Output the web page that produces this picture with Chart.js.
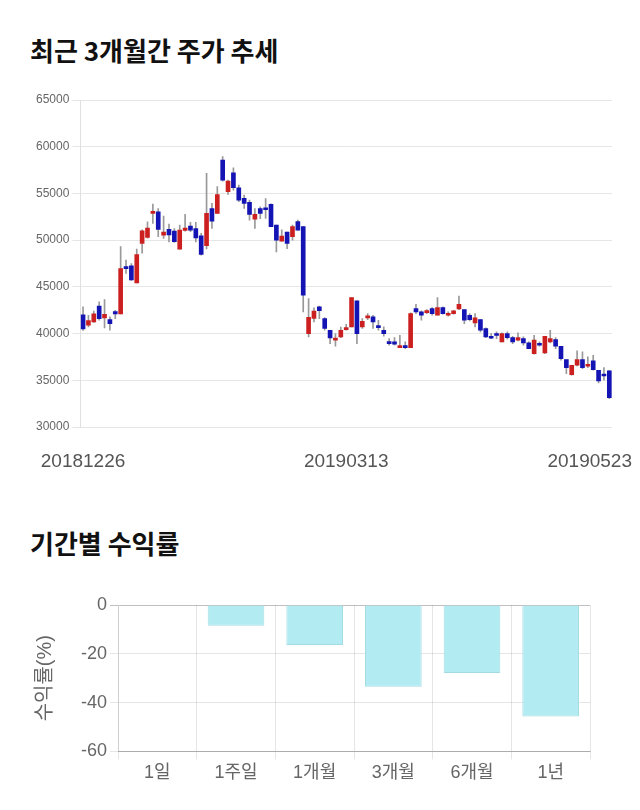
<!DOCTYPE html>
<html>
<head>
<meta charset="utf-8">
<script src="https://cdn.jsdelivr.net/npm/chart.js@4.4.0/dist/chart.umd.min.js"></script>
<style>
body { margin: 0; background: #fff; width: 640px; height: 810px; position: relative; overflow: hidden; font-family: 'Noto Sans CJK KR', sans-serif; }
.title { position: absolute; left: 30px; font-size: 26px; font-weight: bold; color: #111; line-height: 26px; }
#priceBox { position: absolute; left: 0; top: 80px; width: 640px; height: 400px; }
#returnBox { position: absolute; left: 0; top: 590px; width: 640px; height: 203px; }
</style>
</head>
<body>
<div class="title" style="top:37px">최근 3개월간 주가 추세</div>
<div id="priceBox"><canvas id="priceChart"></canvas></div>
<div class="title" style="top:530px">기간별 수익률</div>
<div id="returnBox"><canvas id="returnChart"></canvas></div>
<script>
// daily candles, 2018-12-26 .. 2019-05-23
const opens = [
    42000, 40900, 41250, 42930, 41680, 41500, 42350, 42100, 47180, 47250,
    45430, 49650, 50300, 52860, 53030, 50540, 51150, 50970, 49040, 51040,
    51500, 51250, 50460, 49400, 53390, 52860, 58570, 55180, 57210, 55610,
    54470, 54040, 52250, 53390, 53300, 53820, 51600, 49900, 50850, 50360,
    52000, 51450, 40000, 41610, 42860, 41610, 40360, 39300, 39640, 40430,
    40710, 43500, 40710, 41680, 41790, 40710, 40360, 39040, 39110, 38500,
    38640, 38500, 42680, 42320, 42250, 42680, 41960, 42790, 41960, 42140,
    42640, 42570, 41960, 41140, 41500, 40540, 39570, 39890, 39110, 40000,
    39570, 39290, 39460, 39000, 37860, 38860, 37930, 39110, 39360, 38640,
    37210, 35610, 36610, 37210, 36500, 37070, 36070, 35540, 36000
];
const highs = [
    42850, 41950, 42400, 43400, 43640, 41790, 42500, 49300, 47860, 47500,
    49050, 51100, 51950, 53860, 53390, 52570, 51720, 51250, 51610, 52750,
    51900, 51900, 50720, 57150, 53930, 55720, 58950, 56430, 57750, 55900,
    54820, 54290, 53390, 53570, 54460, 53900, 51600, 51100, 50850, 51600,
    52150, 51450, 43750, 42750, 42930, 41700, 40360, 40000, 40700, 41000,
    43860, 43500, 41610, 42140, 41960, 41430, 40710, 39460, 39570, 39820,
    39110, 42210, 43140, 42430, 42570, 42790, 43860, 42860, 42320, 42500,
    44000, 42570, 42140, 42140, 41500, 40610, 40000, 40180, 40070, 40180,
    39710, 40070, 39640, 39110, 39820, 39110, 39710, 40360, 39570, 38640,
    37210, 36610, 38140, 38040, 37500, 37680, 36070, 36360, 36070
];
const lows = [
    40350, 40700, 41200, 41430, 40600, 40360, 41600, 42100, 46430, 45700,
    45430, 48600, 50200, 51790, 50360, 50180, 49820, 49750, 49040, 50960,
    50900, 49820, 48390, 49050, 51250, 52860, 56320, 54890, 55360, 54110,
    53400, 52140, 51250, 52300, 52320, 51430, 48750, 49900, 49100, 50000,
    51070, 42320, 39640, 41250, 41600, 40360, 38930, 38640, 39570, 40360,
    40710, 38930, 40540, 41500, 40540, 40360, 39710, 38750, 38750, 38500,
    38390, 38500, 42140, 41430, 42140, 41960, 41960, 42070, 41860, 42070,
    42570, 41070, 41360, 40710, 40180, 39570, 39460, 39460, 39110, 39390,
    38930, 39210, 38750, 38390, 37790, 38640, 37860, 38990, 38390, 37140,
    35710, 35540, 36540, 36250, 36360, 36070, 34710, 35000, 33040
];
const closes = [
    40500, 41400, 42100, 41600, 42070, 41050, 42100, 46950, 46960, 45750,
    48450, 51000, 51300, 53040, 51150, 50860, 50550, 49830, 51070, 51290,
    51070, 50250, 48470, 52860, 52040, 54890, 56430, 56320, 55610, 54290,
    53930, 52750, 52750, 52860, 53250, 51430, 50000, 50430, 49640, 51450,
    51070, 44110, 41750, 42400, 42450, 40540, 39540, 39460, 40360, 40540,
    43860, 40000, 41320, 41860, 41250, 40640, 40000, 38930, 38860, 38640,
    38500, 42140, 42320, 41960, 42430, 42140, 42790, 42140, 42140, 42430,
    43140, 41430, 41500, 41680, 40360, 39640, 39500, 39790, 40000, 39570,
    39110, 39570, 39000, 38390, 39290, 38750, 39710, 39460, 38640, 37320,
    36360, 36610, 37210, 36360, 36610, 36140, 34930, 35460, 33140
];
const dateTickIndex = [0, 49, 98];
const dateTickLabels = ['20181226', '20190313', '20190523'];

const periods = ['1일', '1주일', '1개월', '3개월', '6개월', '1년'];
const returns = [0, -8.5, -16.4, -33.5, -27.9, -45.7];

const UP = '#cc2020';
const DOWN = '#1414b4';

const dateLabelsPlugin = {
    id: 'dateLabels',
    afterDraw(chart) {
        const ctx = chart.ctx;
        const xs = chart.scales.x;
        ctx.save();
        ctx.font = '19px "Liberation Sans", Arial, sans-serif';
        ctx.fillStyle = '#555';
        ctx.textBaseline = 'middle';
        ctx.textAlign = 'center';
        dateTickIndex.forEach((idx, k) => {
            const w = ctx.measureText(dateTickLabels[k]).width;
            let px = xs.getPixelForValue(idx);
            px = Math.min(px, chart.width - 8 - w / 2);
            px = Math.max(px, w / 2);
            ctx.fillText(dateTickLabels[k], px, 382);
        });
        ctx.restore();
    }
};

new Chart(document.getElementById('priceChart'), {
    type: 'bar',
    data: {
        labels: opens.map((_, i) => i),
        datasets: [{
            data: opens.map((o, i) => [o, closes[i]]),
            backgroundColor: opens.map((o, i) => closes[i] >= o ? UP : DOWN),
            barThickness: 4,
            minBarLength: 2,
            grouped: false,
            order: 0
        }, {
            data: lows.map((l, i) => [l, highs[i]]),
            backgroundColor: '#999',
            barThickness: 1,
            grouped: false,
            order: 1
        }]
    },
    options: {
        responsive: true,
        maintainAspectRatio: false,
        animation: false,
        layout: { padding: { left: 33, right: 28, top: 20, bottom: 53 } },
        plugins: { legend: { display: false }, tooltip: { enabled: false } },
        scales: {
            x: { display: false, offset: true },
            y: {
                min: 30000,
                max: 65000,
                ticks: {
                    stepSize: 5000,
                    color: '#666',
                    font: { family: '"Liberation Sans", Arial, sans-serif', size: 12 },
                    callback: v => String(v)
                },
                grid: { color: '#e6e6e6', tickLength: 8 },
                border: { color: '#e0e0e0' }
            }
        }
    },
    plugins: [dateLabelsPlugin]
});

const cjkFont = '"Liberation Sans", "Noto Sans CJK KR", sans-serif';

new Chart(document.getElementById('returnChart'), {
    type: 'bar',
    data: {
        labels: periods,
        datasets: [{
            data: returns,
            backgroundColor: '#b2ebf2',
            borderColor: '#a3dce4',
            borderWidth: 1
        }]
    },
    options: {
        responsive: true,
        maintainAspectRatio: false,
        animation: false,
        layout: { padding: { left: 20, right: 50, top: 15, bottom: 6 } },
        plugins: { legend: { display: false }, tooltip: { enabled: false } },
        scales: {
            x: {
                ticks: { color: '#666', font: { family: cjkFont, size: 18 } },
                grid: { color: 'rgba(0,0,0,0.1)', tickLength: 8 },
                border: { color: 'rgba(0,0,0,0.25)' }
            },
            y: {
                min: -60,
                max: 0,
                ticks: { stepSize: 20, color: '#666', font: { family: cjkFont, size: 18 } },
                grid: {
                    color: ctx => ctx.tick && ctx.tick.value === 0 ? 'rgba(0,0,0,0.25)' : 'rgba(0,0,0,0.1)',
                    tickLength: 8
                },
                border: { color: 'rgba(0,0,0,0.1)' },
                title: {
                    display: true,
                    text: '수익률(%)',
                    color: '#666',
                    font: { family: cjkFont, size: 20 },
                    padding: { top: 13, bottom: 21 }
                }
            }
        }
    }
});
</script>
</body>
</html>
